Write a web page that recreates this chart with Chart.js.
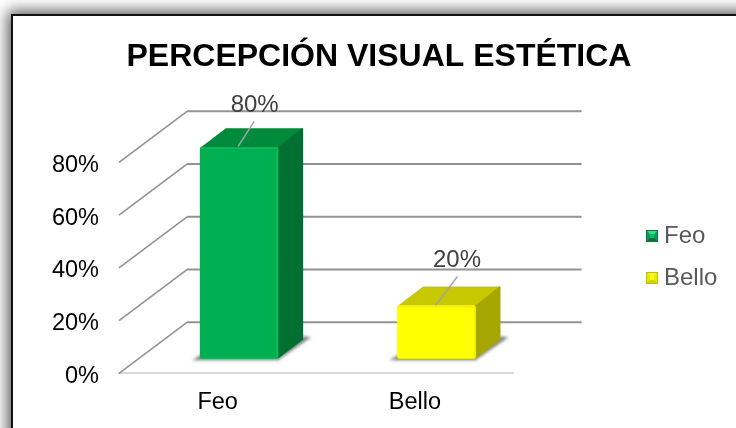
<!DOCTYPE html>
<html><head><meta charset="utf-8">
<style>
html,body{margin:0;padding:0;background:#fff;overflow:hidden;width:736px;height:428px}
#frame{position:absolute;left:11px;top:14px;width:900px;height:600px;background:#fff;border:2px solid #111;box-shadow:0 0 14px 3px rgba(0,0,0,.68)}
#c{position:absolute;left:0;top:0}
</style>
<script src="https://cdn.jsdelivr.net/npm/chart.js@4/dist/chart.umd.js"></script>
</head><body>
<div id="frame"></div>
<canvas id="c" width="736" height="428"></canvas>
<script>
const titleText = 'PERCEPCIÓN VISUAL ESTÉTICA';
const categories = ['Feo', 'Bello'];
const seriesValues = [0.8, 0.2];
const tickStep = 0.2;
const tickMax = 0.8;

const FONT = '"Liberation Sans", Arial, sans-serif';
const frontColors = ['#00B050', '#FFFF00'];
const edgeColors = ['#0CBC5C', '#F2F200'];
const topColors = ['#008A3C', '#C8C800'];
const sideColors = ['#006F32', '#A6A600'];
const PLANE = {dx: 68, dy: 51};      // depth of the floor
const OFFSET = {dx: 21.5, dy: -15};  // bar position inside the floor
const DEPTH = {dx: 25, dy: 19};      // depth of a bar
const LABEL = [{dx: 15.5, dy: -41.5, x0: -1, y0: -1, x1: 15, y1: -26}, {dx: 20.5, dy: -45, x0: -1, y0: 0, x1: 21, y1: -29}];
const pct = v => Math.round(v * 100) + '%';

function bevel(light, dark, side, edge, mid) {
  const c = document.createElement('canvas'); c.width = 12; c.height = 12;
  const g = c.getContext('2d');
  g.fillStyle = edge; g.fillRect(0, 0, 12, 12);
  const tri = (col, pts) => { g.fillStyle = col; g.beginPath(); pts.forEach((p, i) => i ? g.lineTo(p[0], p[1]) : g.moveTo(p[0], p[1])); g.closePath(); g.fill(); };
  tri(side, [[1, 1], [6, 6], [1, 11]]);
  tri(side, [[11, 1], [6, 6], [11, 11]]);
  tri(dark, [[1, 11], [6, 6], [11, 11]]);
  tri(light, [[1, 1], [11, 1], [6, 7]]);
  g.fillStyle = mid; g.fillRect(4, 4, 4, 4);
  return c;
}
const legendIcons = [
  bevel('#2EE08A', '#08703C', '#0E9A55', '#0A7A42', '#14B868'),
  bevel('#F8F820', '#D4D400', '#E8E800', '#BDBD10', '#FFFF00')
];

const floorPlugin = {
  id: 'floor',
  beforeDatasetsDraw(chart) {
    const {ctx} = chart, y = chart.scales.y, a = chart.chartArea;
    ctx.save();
    ctx.strokeStyle = '#929292';
    y.ticks.forEach(t => {
      const p = y.getPixelForValue(t.value);
      ctx.lineWidth = 1.6;
      ctx.beginPath(); ctx.moveTo(a.left, p); ctx.lineTo(a.left + PLANE.dx, p - PLANE.dy); ctx.stroke();
      ctx.lineWidth = 2;
      ctx.beginPath(); ctx.moveTo(a.left + PLANE.dx, p - PLANE.dy); ctx.lineTo(a.right + PLANE.dx, p - PLANE.dy); ctx.stroke();
    });
    ctx.restore();
  }
};

const barPlugin = {
  id: 'bars3d',
  beforeDatasetDraw(chart) {
    const {ctx} = chart;
    const meta = chart.getDatasetMeta(0);
    meta.data.forEach((b, i) => {
      const l = b.x - b.width / 2 + OFFSET.dx, r = b.x + b.width / 2 + OFFSET.dx;
      const t = b.y + OFFSET.dy, bt = b.base + OFFSET.dy;
      ctx.save();
      ctx.filter = 'blur(1.5px)';
      ctx.fillStyle = 'rgba(60,60,60,.62)';
      ctx.beginPath();
      ctx.moveTo(l - 8, bt + 2); ctx.lineTo(r, bt + 2); ctx.lineTo(r + DEPTH.dx + 8, bt - DEPTH.dy - 2);
      ctx.lineTo(r + DEPTH.dx, bt - DEPTH.dy - 3); ctx.lineTo(r, bt - 3); ctx.lineTo(l, bt - 3); ctx.closePath(); ctx.fill();
      ctx.restore();
      ctx.save();
      ctx.lineJoin = 'round'; ctx.lineWidth = 2;
      ctx.fillStyle = ctx.strokeStyle = topColors[i];
      ctx.beginPath();
      ctx.moveTo(l + 1, t + 1); ctx.lineTo(l + DEPTH.dx + 1, t - DEPTH.dy + 1); ctx.lineTo(r + DEPTH.dx - 1, t - DEPTH.dy + 1); ctx.lineTo(r, t + 1);
      ctx.closePath(); ctx.fill(); ctx.stroke();
      ctx.fillStyle = ctx.strokeStyle = sideColors[i];
      ctx.beginPath();
      ctx.moveTo(r, t + 1); ctx.lineTo(r + DEPTH.dx - 1, t - DEPTH.dy + 1); ctx.lineTo(r + DEPTH.dx - 1, bt - DEPTH.dy); ctx.lineTo(r, bt - 1);
      ctx.closePath(); ctx.fill(); ctx.stroke();
      ctx.restore();
    });
    ctx.save();
    ctx.translate(OFFSET.dx, OFFSET.dy);
  },
  afterDatasetDraw(chart) {
    const {ctx} = chart;
    ctx.restore();
    const meta = chart.getDatasetMeta(0);
    ctx.save();
    ctx.textAlign = 'center'; ctx.textBaseline = 'middle';
    ctx.font = '24px ' + FONT;
    meta.data.forEach((b, i) => {
      const cx = b.x + OFFSET.dx, top = b.y + OFFSET.dy, L = LABEL[i];
      const l = cx - b.width / 2, r = cx + b.width / 2, bt = b.base + OFFSET.dy;
      ctx.strokeStyle = edgeColors[i]; ctx.lineWidth = 1.5;
      ctx.beginPath(); ctx.moveTo(l + 1, top + 1); ctx.lineTo(r - 1, top + 1); ctx.lineTo(r - 1, bt - 1); ctx.stroke();
      ctx.strokeStyle = '#a6a6a6'; ctx.lineWidth = 1.5;
      ctx.beginPath(); ctx.moveTo(cx + L.x0, top + L.y0); ctx.lineTo(cx + L.x1, top + L.y1); ctx.stroke();
      ctx.fillStyle = '#404040';
      ctx.fillText(pct(seriesValues[i]), cx + L.dx, top + L.dy);
    });
    ctx.restore();
  }
};

const placePlugin = {
  id: 'place',
  afterLayout(chart) {
    const lg = chart.legend, w = lg.width, h = lg.height;
    lg.left = 634; lg.right = lg.left + w;
    lg.top = 206; lg.bottom = lg.top + h;
    const ti = chart.titleBlock;
    ti.left = 22; ti.right = 736;
  }
};

new Chart(document.getElementById('c'), {
  type: 'bar',
  data: {
    labels: categories,
    datasets: [{
      label: 'Porcentaje',
      data: seriesValues,
      backgroundColor: frontColors,
      borderWidth: 0,
      borderRadius: 2,
      borderSkipped: false,
      barThickness: 78,
      clip: false
    }]
  },
  plugins: [floorPlugin, barPlugin, placePlugin],
  options: {
    responsive: false,
    animation: false,
    devicePixelRatio: 1,
    layout: {padding: {left: 22, right: 129, top: 0, bottom: 0}},
    plugins: {
      tooltip: {enabled: false},
      title: {
        display: true, text: titleText, color: '#000',
        font: {family: FONT, size: 32, weight: 'bold', lineHeight: 1.2},
        padding: {top: 38, bottom: 85.9}
      },
      legend: {
        display: true, position: 'right', align: 'start',
        labels: {
          font: {family: FONT, size: 24, lineHeight: 1.2},
          color: '#595959', usePointStyle: true, boxWidth: 0.01, boxHeight: 12, padding: 18,
          generateLabels: () => categories.map((c, i) => ({
            text: c, pointStyle: legendIcons[i], fontColor: '#595959', datasetIndex: 0, index: i, lineWidth: 0
          }))
        }
      }
    },
    scales: {
      x: {
        grid: {display: false, drawTicks: false},
        border: {display: true, color: '#d9d9d9', width: 2},
        ticks: {color: '#000', padding: 15, maxRotation: 0, labelOffset: 0, font: {family: FONT, size: 23.5, lineHeight: 1.2}},
        afterFit: s => { s.height = 54.7; }
      },
      y: {
        min: 0, max: tickMax,
        grid: {display: false, drawTicks: false},
        border: {display: false},
        ticks: {stepSize: tickStep, color: '#000', padding: 20, labelOffset: 3, font: {family: FONT, size: 23.5, lineHeight: 1.2}, callback: pct},
        afterFit: s => { s.width = 97; }
      }
    }
  }
});
</script>
</body></html>
